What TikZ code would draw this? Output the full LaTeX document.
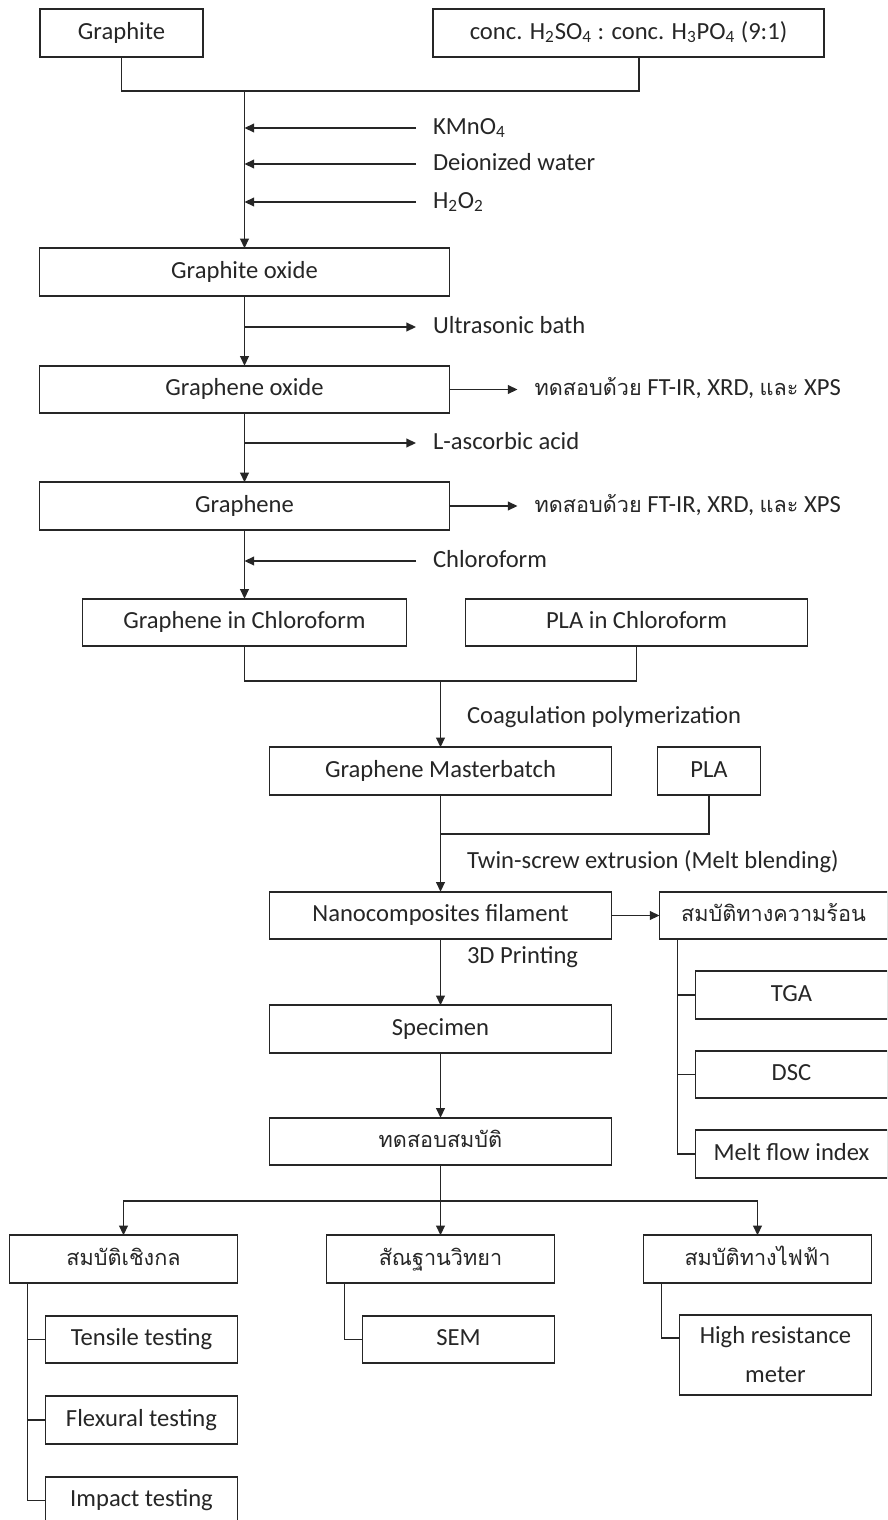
\documentclass[tikz,border=0pt]{standalone}
\usepackage{fontspec}
\setmainfont{Carlito}
\newfontfamily\thaifont[Script=Thai, Scale=0.88]{Loma}
\usetikzlibrary{arrows.meta, positioning, calc}
\tikzset{
  box/.style={rectangle, draw=black!85, line width=0.9pt, minimum height=0.95cm,
    inner sep=2pt, outer sep=0pt, text centered, text=black!85, text height=10pt, text depth=3pt,
    font=\fontsize{14}{17}\selectfont},
  mainbox/.style={box, minimum width=8.2cm},
  midbox/.style={box, minimum width=6.84cm},
  propbox/.style={box, minimum width=4.56cm},
  testbox/.style={box, minimum width=3.84cm},
  thai/.style={font=\fontsize{14}{17}\selectfont\thaifont},
  lbl/.style={inner xsep=0.34cm, inner ysep=2pt, outer sep=0pt, text height=10pt, text depth=3pt,
    anchor=west, text=black!85, font=\fontsize{14}{17}\selectfont},
  conn/.style={draw=black!85, line width=0.9pt},
  arr/.style={conn, -{Triangle[length=5.5pt, width=5pt]}},
}

\begin{document}
\begin{tikzpicture}[node distance=1.38cm]
  \path[use as bounding box] (0,0) rectangle (17.74,-30.4);
  \clip (0,0) rectangle (17.74,-30.4);

  % starting materials
  \node[box, minimum width=3.26cm] (graphite) at (2.43,-0.66) {Graphite};
  \node[box, minimum width=7.82cm] (acid) at (12.57,-0.66)
    {conc. H\textsubscript{2}SO\textsubscript{4} : conc. H\textsubscript{3}PO\textsubscript{4} (9:1)};

  % synthesis column
  \node[mainbox] (goxide) at (4.89,-5.44) {Graphite oxide};
  \node[mainbox, below=1.4cm of goxide] (geneox) {Graphene oxide};
  \node[mainbox, below=of geneox] (graphene) {Graphene};
  \node[midbox, minimum width=6.48cm, below=of graphene] (gchl) {Graphene in Chloroform};
  \node[midbox, right=1.18cm of gchl] (plachl) {PLA in Chloroform};

  % reagents and steps
  \node[lbl] (kmno4) at (8.32,-2.56) {KMnO\textsubscript{4}};
  \node[lbl] (water) at (8.32,-3.28) {Deionized water};
  \node[lbl] (hperox) at (8.32,-4.04) {H\textsubscript{2}O\textsubscript{2}};
  \node[lbl] (ultra) at (8.32,-6.54) {Ultrasonic bath};
  \node[lbl] (ascorbic) at (8.32,-8.86) {L-ascorbic acid};
  \node[lbl] (chcl) at (8.32,-11.22) {Chloroform};
  \node[lbl, right=1.36cm of geneox] (ftir1) {{\thaifont ทดสอบด้วย} FT-IR, XRD, {\thaifont และ} XPS};
  \node[lbl, right=1.36cm of graphene] (ftir2) {{\thaifont ทดสอบด้วย} FT-IR, XRD, {\thaifont และ} XPS};

  \coordinate (jtop) at ($(graphite.south)+(0,-0.68)$);
  \draw[conn] (graphite.south) -- (jtop) -| ($(acid.south)+(0.21,0)$);
  \draw[arr] (jtop -| goxide.north) -- (goxide.north);
  \draw[arr] (kmno4.west) -- (kmno4.west -| goxide.north);
  \draw[arr] (water.west) -- (water.west -| goxide.north);
  \draw[arr] (hperox.west) -- (hperox.west -| goxide.north);
  \draw[arr] (goxide) -- (geneox);
  \draw[arr] (ultra.west -| geneox.north) -- (ultra.west);
  \draw[arr] (geneox) -- (graphene);
  \draw[arr] (ascorbic.west -| graphene.north) -- (ascorbic.west);
  \draw[arr] (geneox) -- (ftir1);
  \draw[arr] (graphene) -- (ftir2);
  \draw[arr] (graphene) -- (gchl);
  \draw[arr] (chcl.west) -- (chcl.west -| graphene.south);

  % blending
  \coordinate (jmid) at ($(gchl.south)!0.5!(plachl.south)+(0,-0.7)$);
  \draw[conn] (gchl.south) |- (jmid) -| (plachl.south);
  \node[midbox, below=1.32cm of jmid] (gmb) {Graphene Masterbatch};
  \node[box, minimum width=2.06cm, right=0.92cm of gmb] (pla) {PLA};
  \node[midbox, below=1.94cm of gmb] (filament) {Nanocomposites filament};
  \node[lbl] (coag) at (9.0,-14.34) {Coagulation polymerization};
  \node[lbl] (twin) at (9.0,-17.24) {Twin-screw extrusion (Melt blending)};
  \draw[arr] (jmid) -- (gmb);
  \draw[conn] (pla.south) |- ($(gmb.south)+(0,-0.78)$);
  \draw[arr] (gmb) -- (filament);

  % thermal properties
  \node[propbox, thai, right=0.96cm of filament] (thermal) {สมบัติทางความร้อน};
  \node[testbox, below=0.64cm of thermal.south east, anchor=north east] (tga) {TGA};
  \node[testbox, below=0.64cm of tga] (dsc) {DSC};
  \node[testbox, below=0.64cm of dsc] (mfi) {Melt flow index};
  \draw[arr] (filament) -- (thermal);
  \draw[conn] ($(thermal.south west)+(0.36,0)$) |- (mfi.west);
  \draw[conn] (tga.west) -- ++(-0.36,0);
  \draw[conn] (dsc.west) -- ++(-0.36,0);

  % specimen and testing
  \node[midbox, below=1.32cm of filament] (specimen) {Specimen};
  \node[midbox, thai, below=1.3cm of specimen] (test) {ทดสอบสมบัติ};
  \node[lbl] (print3d) at (9.0,-19.14) {3D Printing};
  \draw[arr] (filament) -- (specimen);
  \draw[arr] (specimen) -- (test);

  \node[propbox, thai, below=1.4cm of test] (morph) {สัณฐานวิทยา};
  \node[propbox, thai, left=1.78cm of morph] (mech) {สมบัติเชิงกล};
  \node[propbox, thai, right=1.78cm of morph] (elec) {สมบัติทางไฟฟ้า};
  \coordinate (jtest) at ($(test.south)+(0,-0.72)$);
  \draw[arr] (test) -- (morph);
  \draw[arr] (jtest) -| (mech.north);
  \draw[arr] (jtest) -| (elec.north);

  % mechanical
  \node[testbox, below=0.66cm of mech.south east, anchor=north east] (tensile) {Tensile testing};
  \node[testbox, below=0.66cm of tensile] (flexural) {Flexural testing};
  \node[testbox, below=0.66cm of flexural] (impact) {Impact testing};
  \draw[conn] ($(mech.south west)+(0.36,0)$) |- (impact.west);
  \draw[conn] (tensile.west) -- ++(-0.36,0);
  \draw[conn] (flexural.west) -- ++(-0.36,0);

  % morphology
  \node[testbox, below=0.66cm of morph.south east, anchor=north east] (sem) {SEM};
  \draw[conn] ($(morph.south west)+(0.36,0)$) |- (sem.west);

  % electrical
  \node[testbox, text height=, text depth=, align=center, minimum height=1.6cm,
    below=0.64cm of elec.south east, anchor=north east] (hrm) {High resistance\\[5pt]meter};
  \draw[conn] ($(elec.south west)+(0.36,0)$) |- ($(hrm.north west)+(0,-0.46)$);
\end{tikzpicture}
\end{document}
